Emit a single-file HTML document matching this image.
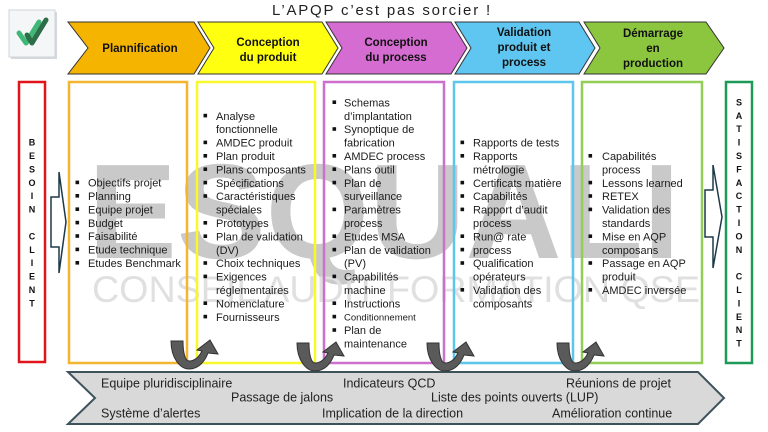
<!DOCTYPE html>
<html><head><meta charset="utf-8"><style>
html,body{margin:0;padding:0;background:#fff;}
svg{display:block;}
text{font-family:"Liberation Sans",sans-serif;}
.l{font-size:11px;fill:#1c1c1c;}
.c{font-size:11.5px;font-weight:bold;fill:#111;text-anchor:middle;}
.v{font-size:9px;font-weight:bold;fill:#111;text-anchor:middle;}
.b{font-size:12.5px;fill:#222;}
</style></head><body>
<svg width="768" height="432" viewBox="0 0 768 432" xmlns="http://www.w3.org/2000/svg">
<rect width="768" height="432" fill="#fff"/>

<!-- watermark -->
<text x="88" y="258" font-size="135" font-weight="bold" fill="#c9c9c9" textLength="592" lengthAdjust="spacingAndGlyphs">ESQUALI</text>
<text x="92" y="302" font-size="37" fill="#e0e0e0" textLength="608" lengthAdjust="spacingAndGlyphs">CONSEIL AUDIT FORMATION QSE</text>

<!-- title -->
<text x="272" y="15" font-size="15" fill="#222" letter-spacing="1.8">L’APQP c’est pas sorcier !</text>

<!-- logo -->
<rect x="11" y="12" width="46" height="47" fill="#d5d8dc"/>
<rect x="9" y="10" width="46" height="47" fill="#f4f6f8" stroke="#d0d4d8" stroke-width="1"/>
<polyline points="19,33 26,43 39,22" fill="none" stroke="#3fb877" stroke-width="5" stroke-linejoin="round" stroke-linecap="round"/>
<polyline points="27,35 32,43 46,20" fill="none" stroke="#2b6e47" stroke-width="5" stroke-linejoin="round" stroke-linecap="round"/>

<!-- chevrons -->
<g stroke="#333" stroke-width="1">
<polygon points="68,22 194,22 210,48 194,74 68,74 88,48" fill="#F5B400"/>
<polygon points="198,22 322,22 338,48 322,74 198,74 214,48" fill="#FFFF10"/>
<polygon points="326,22 451,22 467,48 451,74 326,74 342,48" fill="#D56CD1"/>
<polygon points="455,22 579,22 595,48 579,74 455,74 471,48" fill="#5EC6F0"/>
<polygon points="584,22 706,22 724,48 706,74 584,74 600,48" fill="#8CC63F"/>
</g>
<text class="c" x="140" y="52">Plannification</text>
<text class="c" x="268" y="46">Conception</text>
<text class="c" x="268" y="61">du produit</text>
<text class="c" x="396" y="46">Conception</text>
<text class="c" x="396" y="61">du process</text>
<text class="c" x="524" y="36">Validation</text>
<text class="c" x="524" y="51">produit et</text>
<text class="c" x="524" y="66">process</text>
<text class="c" x="653" y="37">Démarrage</text>
<text class="c" x="653" y="52">en</text>
<text class="c" x="653" y="67">production</text>

<!-- column boxes -->
<g fill="none" stroke-width="2.5">
<rect x="19" y="82" width="26" height="280" stroke="#E0161B"/>
<rect x="69" y="82" width="118" height="281" stroke="#F2B630"/>
<rect x="197" y="82" width="118" height="281" stroke="#F8F82A"/>
<rect x="324" y="82" width="120" height="281" stroke="#CD70CC"/>
<rect x="454" y="82" width="119" height="281" stroke="#5CC6EC"/>
<rect x="582" y="82" width="120" height="281" stroke="#92CE55"/>
<rect x="726" y="82" width="26" height="281" stroke="#1E9A58"/>
</g>

<!-- hollow arrows -->
<g fill="#fff" stroke="#1d3a4a" stroke-width="1.5" stroke-linejoin="miter">
<polygon points="51,197 59,197 59,172 66,222 59,273 59,247 51,247"/>
<polygon points="705,190 713,190 713,165 722,217 713,268 713,237 705,237"/>
</g>

<!-- vertical letters -->
<g class="v">
<text class="v" x="32" y="145.6">B</text>
<text class="v" x="32" y="159">E</text>
<text class="v" x="32" y="172.4">S</text>
<text class="v" x="32" y="185.8">O</text>
<text class="v" x="32" y="199.2">I</text>
<text class="v" x="32" y="212.6">N</text>
<text class="v" x="32" y="239.4">C</text>
<text class="v" x="32" y="252.8">L</text>
<text class="v" x="32" y="266.2">I</text>
<text class="v" x="32" y="279.6">E</text>
<text class="v" x="32" y="293">N</text>
<text class="v" x="32" y="306.4">T</text>

<text class="v" x="739" y="105.4">S</text>
<text class="v" x="739" y="118.8">A</text>
<text class="v" x="739" y="132.2">T</text>
<text class="v" x="739" y="145.6">I</text>
<text class="v" x="739" y="159">S</text>
<text class="v" x="739" y="172.4">F</text>
<text class="v" x="739" y="185.8">A</text>
<text class="v" x="739" y="199.2">C</text>
<text class="v" x="739" y="212.6">T</text>
<text class="v" x="739" y="226">I</text>
<text class="v" x="739" y="239.4">O</text>
<text class="v" x="739" y="252.8">N</text>
<text class="v" x="739" y="279.6">C</text>
<text class="v" x="739" y="293">L</text>
<text class="v" x="739" y="306.4">I</text>
<text class="v" x="739" y="319.8">E</text>
<text class="v" x="739" y="333.2">N</text>
<text class="v" x="739" y="346.6">T</text>
</g>

<!-- orange column -->
<g fill="#111">
<rect x="75.5" y="180.6" width="3.6" height="3.6"/>
<rect x="75.5" y="194" width="3.6" height="3.6"/>
<rect x="75.5" y="207.4" width="3.6" height="3.6"/>
<rect x="75.5" y="220.8" width="3.6" height="3.6"/>
<rect x="75.5" y="234.2" width="3.6" height="3.6"/>
<rect x="75.5" y="247.6" width="3.6" height="3.6"/>
<rect x="75.5" y="261" width="3.6" height="3.6"/>
</g>
<text class="l" x="88" y="186.6">Objectifs projet</text>
<text class="l" x="88" y="200">Planning</text>
<text class="l" x="88" y="213.4">Equipe projet</text>
<text class="l" x="88" y="226.8">Budget</text>
<text class="l" x="88" y="240.2">Faisabilité</text>
<text class="l" x="88" y="253.6">Etude technique</text>
<text class="l" x="88" y="267">Etudes Benchmark</text>

<!-- yellow column -->
<g fill="#111">
<rect x="203.5" y="113.8" width="3.6" height="3.6"/>
<rect x="203.5" y="140.6" width="3.6" height="3.6"/>
<rect x="203.5" y="154" width="3.6" height="3.6"/>
<rect x="203.5" y="167.4" width="3.6" height="3.6"/>
<rect x="203.5" y="180.8" width="3.6" height="3.6"/>
<rect x="203.5" y="194.2" width="3.6" height="3.6"/>
<rect x="203.5" y="221" width="3.6" height="3.6"/>
<rect x="203.5" y="234.4" width="3.6" height="3.6"/>
<rect x="203.5" y="261.2" width="3.6" height="3.6"/>
<rect x="203.5" y="274.6" width="3.6" height="3.6"/>
<rect x="203.5" y="301.4" width="3.6" height="3.6"/>
<rect x="203.5" y="314.8" width="3.6" height="3.6"/>
</g>
<text class="l" x="216" y="119.8">Analyse</text>
<text class="l" x="216" y="133.2">fonctionnelle</text>
<text class="l" x="216" y="146.6">AMDEC produit</text>
<text class="l" x="216" y="160">Plan produit</text>
<text class="l" x="216" y="173.4">Plans composants</text>
<text class="l" x="216" y="186.8">Spécifications</text>
<text class="l" x="216" y="200.2">Caractéristiques</text>
<text class="l" x="216" y="213.6">spéciales</text>
<text class="l" x="216" y="227">Prototypes</text>
<text class="l" x="216" y="240.4">Plan de validation</text>
<text class="l" x="216" y="253.8">(DV)</text>
<text class="l" x="216" y="267.2">Choix techniques</text>
<text class="l" x="216" y="280.6">Exigences</text>
<text class="l" x="216" y="294">réglementaires</text>
<text class="l" x="216" y="307.4">Nomenclature</text>
<text class="l" x="216" y="320.8">Fournisseurs</text>

<!-- magenta column -->
<g fill="#111">
<rect x="332.5" y="100.4" width="3.6" height="3.6"/>
<rect x="332.5" y="127.2" width="3.6" height="3.6"/>
<rect x="332.5" y="154" width="3.6" height="3.6"/>
<rect x="332.5" y="167.4" width="3.6" height="3.6"/>
<rect x="332.5" y="180.8" width="3.6" height="3.6"/>
<rect x="332.5" y="207.6" width="3.6" height="3.6"/>
<rect x="332.5" y="234.4" width="3.6" height="3.6"/>
<rect x="332.5" y="247.8" width="3.6" height="3.6"/>
<rect x="332.5" y="274.6" width="3.6" height="3.6"/>
<rect x="332.5" y="301.4" width="3.6" height="3.6"/>
<rect x="332.5" y="314.8" width="3.6" height="3.6"/>
<rect x="332.5" y="328.2" width="3.6" height="3.6"/>
</g>
<text class="l" x="344" y="106.4">Schemas</text>
<text class="l" x="344" y="119.8">d’implantation</text>
<text class="l" x="344" y="133.2">Synoptique de</text>
<text class="l" x="344" y="146.6">fabrication</text>
<text class="l" x="344" y="160">AMDEC process</text>
<text class="l" x="344" y="173.4">Plans outil</text>
<text class="l" x="344" y="186.8">Plan de</text>
<text class="l" x="344" y="200.2">surveillance</text>
<text class="l" x="344" y="213.6">Paramètres</text>
<text class="l" x="344" y="227">process</text>
<text class="l" x="344" y="240.4">Etudes MSA</text>
<text class="l" x="344" y="253.8">Plan de validation</text>
<text class="l" x="344" y="267.2">(PV)</text>
<text class="l" x="344" y="280.6">Capabilités</text>
<text class="l" x="344" y="294">machine</text>
<text class="l" x="344" y="307.4">Instructions</text>
<text class="l" x="344" y="320.4" style="font-size:9.5px">Conditionnement</text>
<text class="l" x="344" y="334.2">Plan de</text>
<text class="l" x="344" y="347.6">maintenance</text>

<!-- blue column -->
<g fill="#111">
<rect x="460.5" y="140.6" width="3.6" height="3.6"/>
<rect x="460.5" y="154" width="3.6" height="3.6"/>
<rect x="460.5" y="180.8" width="3.6" height="3.6"/>
<rect x="460.5" y="194.2" width="3.6" height="3.6"/>
<rect x="460.5" y="207.6" width="3.6" height="3.6"/>
<rect x="460.5" y="234.4" width="3.6" height="3.6"/>
<rect x="460.5" y="247.8" width="3.6" height="3.6"/>
<rect x="460.5" y="261.2" width="3.6" height="3.6"/>
<rect x="460.5" y="288" width="3.6" height="3.6"/>
</g>
<text class="l" x="473" y="146.6">Rapports de tests</text>
<text class="l" x="473" y="160">Rapports</text>
<text class="l" x="473" y="173.4">métrologie</text>
<text class="l" x="473" y="186.8">Certificats matière</text>
<text class="l" x="473" y="200.2">Capabilités</text>
<text class="l" x="473" y="213.6">Rapport d’audit</text>
<text class="l" x="473" y="227">process</text>
<text class="l" x="473" y="240.4">Run@ rate</text>
<text class="l" x="473" y="253.8">process</text>
<text class="l" x="473" y="267.2">Qualification</text>
<text class="l" x="473" y="280.6">opérateurs</text>
<text class="l" x="473" y="294">Validation des</text>
<text class="l" x="473" y="307.4">composants</text>

<!-- green column -->
<g fill="#111">
<rect x="588.5" y="154" width="3.6" height="3.6"/>
<rect x="588.5" y="180.8" width="3.6" height="3.6"/>
<rect x="588.5" y="194.2" width="3.6" height="3.6"/>
<rect x="588.5" y="207.6" width="3.6" height="3.6"/>
<rect x="588.5" y="234.4" width="3.6" height="3.6"/>
<rect x="588.5" y="261.2" width="3.6" height="3.6"/>
<rect x="588.5" y="288" width="3.6" height="3.6"/>
</g>
<text class="l" x="602" y="160">Capabilités</text>
<text class="l" x="602" y="173.4">process</text>
<text class="l" x="602" y="186.8">Lessons learned</text>
<text class="l" x="602" y="200.2">RETEX</text>
<text class="l" x="602" y="213.6">Validation des</text>
<text class="l" x="602" y="227">standards</text>
<text class="l" x="602" y="240.4">Mise en AQP</text>
<text class="l" x="602" y="253.8">composans</text>
<text class="l" x="602" y="267.2">Passage en AQP</text>
<text class="l" x="602" y="280.6">produit</text>
<text class="l" x="602" y="294">AMDEC inversée</text>

<!-- bottom banner -->
<polygon points="68,372 698,372 724,398 698,424 68,424 95,398" fill="#D9D9D9" stroke="#3E525C" stroke-width="2"/>
<text class="b" x="101" y="387.5">Equipe pluridisciplinaire</text>
<text class="b" x="231" y="401.5">Passage de jalons</text>
<text class="b" x="101" y="417.5">Système d’alertes</text>
<text class="b" x="343" y="387.5">Indicateurs QCD</text>
<text class="b" x="431" y="401.5">Liste des points ouverts (LUP)</text>
<text class="b" x="322" y="417.5">Implication de la direction</text>
<text class="b" x="566" y="387.5">Réunions de projet</text>
<text class="b" x="552" y="417.5">Amélioration continue</text>

<!-- curved arrows -->
<defs>
<path id="ua" d="M0,0 C0,17 9,28 18,28 C28,28 34,20 37,12 L47,13 L39,-1 L26,9 L31,10 C28,16 24,20 18,20 C14,20 12,11 12,0 Z" fill="#5a5a5a" stroke="#333" stroke-width="1"/>
</defs>
<use href="#ua" x="171" y="341"/>
<use href="#ua" x="297" y="343"/>
<use href="#ua" x="427" y="343"/>
<use href="#ua" x="557" y="343"/>
</svg>
</body></html>
